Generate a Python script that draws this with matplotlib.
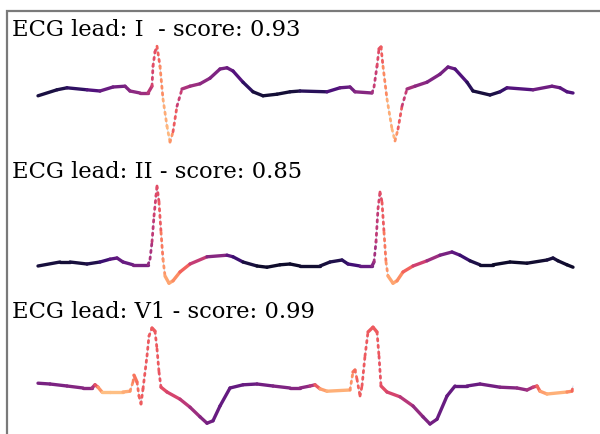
import numpy as np
import matplotlib.pyplot as plt
from matplotlib.collections import LineCollection
from matplotlib.patches import Rectangle

# sample index, amplitude (mV) and model score per point
lead_I_x = [0, 19, 29, 49, 62, 75, 87, 92, 102, 110, 114, 115, 117, 119, 122, 125, 129, 132,
            135, 139, 144, 152, 162, 172, 182, 189, 195, 205, 215, 225, 239, 252, 262, 289,
            302, 312, 317, 334, 336, 339, 341, 343, 345, 349, 354, 357, 360, 364, 369, 377,
            389, 402, 410, 417, 429, 435, 452, 462, 469, 495, 514, 522, 529, 535]
lead_I_y = [-0.12, 0.03, 0.08, 0.03, 0.0, 0.10, 0.12, 0.0, -0.05, -0.05, 0.12, 0.62, 0.98,
            1.12, 0.62, -0.2, -0.88, -1.28, -1.02, -0.38, 0.05, 0.12, 0.18, 0.32, 0.55, 0.58,
            0.5, 0.22, -0.02, -0.12, -0.08, -0.02, 0.0, -0.02, 0.08, 0.1, -0.02, -0.05, 0.1,
            0.62, 1.05, 1.1, 0.62, -0.2, -0.95, -1.25, -0.95, -0.38, 0.05, 0.12, 0.22, 0.42,
            0.6, 0.55, 0.22, 0.0, -0.1, -0.02, 0.08, 0.03, 0.12, 0.08, -0.02, -0.05]
lead_I_c = [0.12, 0.12, 0.15, 0.2, 0.3, 0.32, 0.35, 0.38, 0.42, 0.45, 0.55, 0.6, 0.62, 0.62,
            0.72, 0.8, 0.85, 0.85, 0.7, 0.6, 0.5, 0.45, 0.42, 0.38, 0.35, 0.33, 0.3, 0.22,
            0.12, 0.1, 0.1, 0.1, 0.12, 0.2, 0.28, 0.32, 0.35, 0.42, 0.5, 0.58, 0.62, 0.62,
            0.7, 0.8, 0.85, 0.85, 0.7, 0.6, 0.48, 0.42, 0.38, 0.35, 0.33, 0.3, 0.2, 0.12,
            0.1, 0.15, 0.22, 0.3, 0.35, 0.3, 0.25, 0.25]

lead_II_x = [0, 22, 32, 49, 62, 72, 79, 85, 95, 110, 112, 114, 116, 118, 119, 121, 123, 125,
             127, 131, 135, 142, 152, 169, 189, 195, 205, 219, 229, 242, 252, 262, 282, 292,
             304, 310, 322, 334, 336, 338, 340, 342, 344, 346, 348, 350, 355, 359, 365, 375,
             389, 402, 414, 422, 432, 442, 455, 472, 489, 509, 515, 520, 529, 535]
lead_II_y = [-0.05, 0.05, 0.05, 0.0, 0.05, 0.12, 0.15, 0.05, -0.02, -0.02, 0.12, 0.55, 1.2,
             1.7, 1.95, 1.55, 0.8, 0.12, -0.3, -0.48, -0.42, -0.2, 0.0, 0.18, 0.22, 0.18,
             0.05, -0.05, -0.08, -0.02, 0.0, -0.05, -0.05, 0.05, 0.1, 0.0, -0.05, -0.05, 0.05,
             0.55, 1.38, 1.8, 1.55, 0.8, 0.05, -0.3, -0.48, -0.42, -0.2, -0.05, 0.08, 0.22,
             0.3, 0.22, 0.08, -0.02, -0.02, 0.05, 0.02, 0.1, 0.15, 0.08, -0.02, -0.08]
lead_II_c = [0.12, 0.1, 0.1, 0.12, 0.15, 0.25, 0.3, 0.3, 0.32, 0.38, 0.45, 0.5, 0.55, 0.58,
             0.6, 0.62, 0.68, 0.75, 0.8, 0.82, 0.8, 0.72, 0.62, 0.45, 0.32, 0.25, 0.15, 0.08,
             0.08, 0.08, 0.08, 0.08, 0.1, 0.12, 0.15, 0.18, 0.25, 0.35, 0.42, 0.5, 0.55, 0.6,
             0.62, 0.68, 0.75, 0.8, 0.82, 0.8, 0.72, 0.62, 0.5, 0.38, 0.32, 0.25, 0.15, 0.1,
             0.08, 0.08, 0.08, 0.1, 0.12, 0.1, 0.08, 0.08]

lead_V1_x = [0, 12, 29, 45, 54, 57, 60, 64, 72, 85, 92, 95, 96, 99, 101, 103, 105, 109, 111,
             114, 117, 119, 121, 123, 129, 142, 152, 162, 169, 175, 182, 192, 205, 219, 235,
             252, 262, 272, 277, 282, 289, 312, 315, 317, 319, 322, 324, 327, 330, 335, 339,
             341, 343, 349, 362, 375, 385, 392, 399, 409, 417, 429, 442, 462, 479, 489, 495,
             499, 502, 509, 529, 534, 535]
lead_V1_y = [0.12, 0.1, 0.05, 0.0, 0.0, 0.08, 0.02, -0.1, -0.1, -0.1, -0.08, 0.15, 0.32,
             0.15, -0.2, -0.4, -0.02, 0.8, 1.3, 1.5, 1.42, 0.98, 0.4, 0.02, -0.1, -0.28,
             -0.48, -0.72, -0.88, -0.82, -0.45, 0.0, 0.08, 0.1, 0.05, 0.0, 0.0, 0.05, 0.08,
             -0.02, -0.08, -0.05, 0.4, 0.45, 0.22, -0.2, 0.05, 0.8, 1.4, 1.52, 1.4, 0.8, 0.05,
             -0.1, -0.22, -0.45, -0.72, -0.9, -0.78, -0.2, 0.05, 0.05, 0.1, 0.02, 0.0, -0.05,
             0.02, 0.05, -0.08, -0.15, -0.1, -0.08, 0.05]
lead_V1_c = [0.35, 0.35, 0.37, 0.38, 0.4, 0.55, 0.7, 0.85, 0.88, 0.85, 0.8, 0.75, 0.72, 0.7,
             0.68, 0.66, 0.65, 0.65, 0.65, 0.65, 0.65, 0.65, 0.65, 0.62, 0.6, 0.55, 0.48, 0.4,
             0.35, 0.32, 0.3, 0.3, 0.3, 0.32, 0.35, 0.38, 0.38, 0.42, 0.55, 0.75, 0.85, 0.82,
             0.72, 0.7, 0.68, 0.66, 0.65, 0.65, 0.65, 0.65, 0.65, 0.65, 0.62, 0.6, 0.55, 0.45,
             0.38, 0.35, 0.32, 0.3, 0.3, 0.3, 0.32, 0.35, 0.4, 0.42, 0.5, 0.6, 0.75, 0.85,
             0.82, 0.7, 0.65]

lead_names = ["I ", "II", "V1"]
scores = [0.93, 0.85, 0.99]

leads = [(lead_I_x, lead_I_y, lead_I_c),
         (lead_II_x, lead_II_y, lead_II_c),
         (lead_V1_x, lead_V1_y, lead_V1_c)]

W, H = 600, 435
fig = plt.figure(figsize=(6, 4.35), dpi=100)

# panel extents in pixels (top, bottom) and baseline pixel row
panels = [(12, 154, 92), (154, 296, 265), (296, 435, 389)]
title_base = [36, 178, 318]
px_per_mv = 40.0
cmap = plt.get_cmap("magma")

for (x, y, c), (top, bot, base), name, sc, tb in zip(leads, panels, lead_names, scores, title_base):
    ax = fig.add_axes([7 / W, 1 - bot / H, 1 - 7 / W, (bot - top) / H])
    ax.set_xlim(-31, 562)
    ax.set_ylim((base - bot) / px_per_mv, (base - top) / px_per_mv)
    ax.axis("off")

    x = np.array(x, float)
    y = np.array(y, float)
    c = np.array(c, float)
    pts = np.column_stack([x, y])
    segs = np.stack([pts[:-1], pts[1:]], axis=1)
    seg_c = (c[:-1] + c[1:]) / 2
    steep = np.abs(np.diff(y)) / np.diff(x) > 0.06
    styles = [(0, (0.8, 1.6)) if s else "solid" for s in steep]
    widths = [2.0 if s else 2.4 for s in steep]

    ax.plot(x, y, color="#aac4e0", lw=0.6, alpha=0.6, zorder=1)
    lc = LineCollection(segs, colors=cmap(seg_c), linewidths=widths,
                        linestyles=styles, capstyle="round", joinstyle="round", zorder=2)
    ax.add_collection(lc)

    fig.text(12 / W, 1 - tb / H, f"ECG lead: {name} - score: {sc:.2f}",
             family="DejaVu Serif", fontsize=16.3, va="baseline", ha="left")

# grey frame around the figure (cropped at right and bottom)
fig.patches.append(Rectangle((7 / W, -0.1), 1.2, 1.1 - 12 / H, transform=fig.transFigure,
                             fill=False, ec="#7a7a7a", lw=1.6, zorder=10))

fig.savefig("out.png", dpi=100)
